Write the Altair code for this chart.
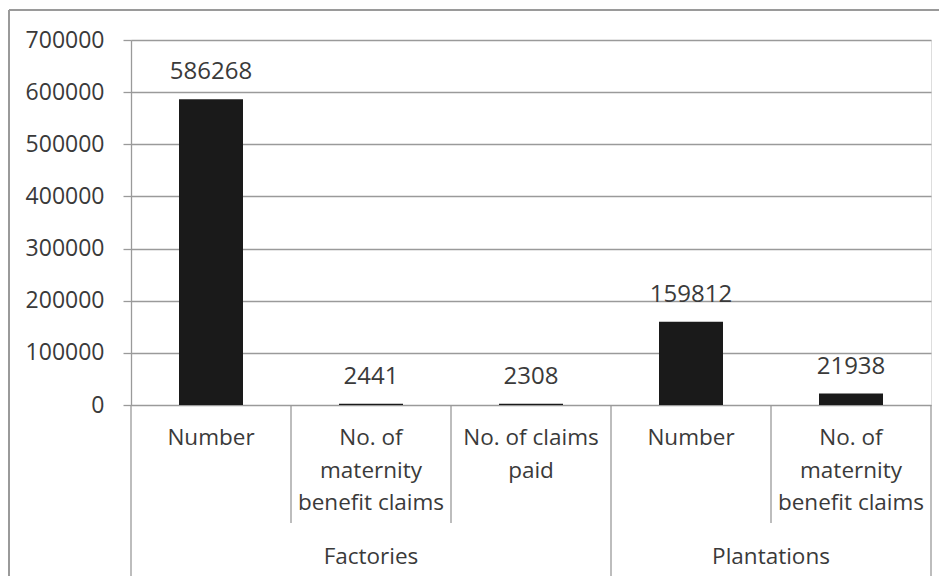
import altair as alt
import pandas as pd

# --- data ---
categories = ["Number", "No. of\nmaternity\nbenefit claims", "No. of claims\npaid",
              "Number", "No. of\nmaternity\nbenefit claims"]
groups = ["Factories", "Factories", "Factories", "Plantations", "Plantations"]
values = [586268, 2441, 2308, 159812, 21938]

group_names = ["Factories", "Plantations"]
group_start = [0, 3]
group_end = [3, 5]

boundaries = [0, 1, 2, 3, 4, 5]
boundary_full = [True, False, False, True, False, True]

W, H = 800, 365
FONT = "Open Sans"
TXT = "#3a3a3a"
LINE = "#9a9a9a"

df = pd.DataFrame({"idx": list(range(len(values))), "cat": categories,
                   "group": groups, "value": values})
gdf = pd.DataFrame({"group": group_names, "start": group_start, "end": group_end})
bdf = pd.DataFrame({"b": boundaries, "full": boundary_full})

xscale = alt.Scale(domain=[0, 5], nice=False, zero=False)
yscale = alt.Scale(domain=[0, 700000], nice=False)

base = alt.Chart(df)

bars = base.transform_calculate(
    x1="datum.idx + 0.3", x2="datum.idx + 0.7"
).mark_bar(color="#1a1a1a").encode(
    x=alt.X("x1:Q", scale=xscale, axis=None),
    x2="x2:Q",
    y=alt.Y("value:Q", scale=yscale,
            axis=alt.Axis(values=[0, 100000, 200000, 300000, 400000, 500000, 600000, 700000],
                          format="d", title=None, grid=True, gridColor=LINE,
                          gridWidth=1.3, domainColor=LINE, domainWidth=1.3,
                          tickColor=LINE, tickSize=8, tickWidth=1.3,
                          labelFont=FONT, labelFontSize=23, labelColor=TXT,
                          labelPadding=19)),
    y2=alt.datum(0),
)

value_labels = base.transform_calculate(xc="datum.idx + 0.5").mark_text(
    font=FONT, fontSize=24, color=TXT, baseline="middle", dy=-27
).encode(
    x=alt.X("xc:Q", scale=xscale),
    y=alt.Y("value:Q", scale=yscale),
    text=alt.Text("value:Q", format="d"),
)

cat_labels = base.transform_calculate(xc="datum.idx + 0.5").mark_text(
    font=FONT, fontSize=22.5, color=TXT, baseline="top", lineBreak="\n", lineHeight=32.5
).encode(
    x=alt.X("xc:Q", scale=xscale),
    y=alt.value(H + 22),
    text="cat:N",
)

group_labels = alt.Chart(gdf).transform_calculate(
    xc="(datum.start + datum.end) / 2"
).mark_text(font=FONT, fontSize=22.5, color=TXT, baseline="middle").encode(
    x=alt.X("xc:Q", scale=xscale),
    y=alt.value(H + 152),
    text="group:N",
)

seps_full = alt.Chart(bdf).transform_filter("datum.full").mark_rule(
    color=LINE, strokeWidth=1.3
).encode(
    x=alt.X("b:Q", scale=xscale),
    y=alt.value(H),
    y2=alt.value(H + 172),
)
seps_part = alt.Chart(bdf).transform_filter("!datum.full").mark_rule(
    color=LINE, strokeWidth=1.3
).encode(
    x=alt.X("b:Q", scale=xscale),
    y=alt.value(H),
    y2=alt.value(H + 118),
)

# outer frame (top and left edges visible)
frame_top = alt.Chart(gdf.head(1)).mark_rule(color=LINE, strokeWidth=2).encode(
    x=alt.value(-122), x2=alt.value(W + 8), y=alt.value(-30)
)
frame_left = alt.Chart(gdf.head(1)).mark_rule(color=LINE, strokeWidth=2).encode(
    x=alt.value(-122), y=alt.value(-30), y2=alt.value(H + 171)
)

chart = alt.layer(bars, value_labels, seps_full, seps_part, cat_labels, group_labels,
                  frame_top, frame_left).properties(
    width=W, height=H,
    autosize=alt.AutoSizeParams(type="none"),
    padding={"left": 123, "top": 32, "right": 8, "bottom": 171},
).configure_view(stroke=None).configure(background="white")

chart.save("out.html", embed_options={"renderer": "svg", "actions": False})
